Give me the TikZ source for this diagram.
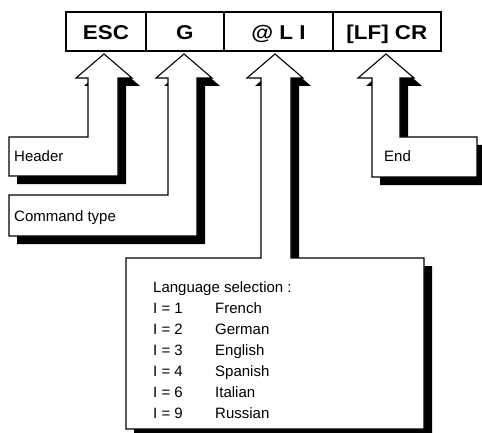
\documentclass[tikz,border=0pt]{standalone}
\usepackage{fontspec}
\setmainfont{Liberation Sans}
\usetikzlibrary{calc}
\tikzset{
  cell/.style={draw, line width=1.8pt, minimum height=39pt, inner sep=0pt,
    text height=17pt, text depth=0pt, font=\fontsize{20}{24}\selectfont\bfseries},
  label/.style={anchor=base west, inner sep=0pt, font=\fontsize{15}{18}\selectfont},
  callout/.style={fill=white, draw=black, line width=1.1pt, line join=miter},
  shade/.style={fill=black, draw=none}
}
\newcommand{\wide}[1]{\scalebox{1.12}[1]{#1}}
\begin{document}
\begin{tikzpicture}[x=1pt,y=-1pt]
\useasboundingbox (0,0) rectangle (482,433);
\clip (0,0) rectangle (482,433);

% command string cells
\node[cell, minimum width=80pt,  anchor=north west] (esc) at (65,11)  {\wide{ESC}};
\node[cell, minimum width=78pt,  anchor=north west] (g)   at (145,11) {\wide{G}};
\node[cell, minimum width=109pt, anchor=north west] (li)  at (223,11) {\wide{@ L I}};
\node[cell, minimum width=108pt, anchor=north west] (cr)  at (332,11) {\wide{[LF] CR}};

% callout outlines (each drawn with a drop shadow)
\def\headerpath{(88,78) -- (88,137) -- (9,137) -- (9,176) -- (118,176) -- (118,78) -- (132,78) -- (104,54) -- (76,78) -- cycle}
\def\cmdpath{(168,78) -- (168,195) -- (9,195) -- (9,236) -- (197,236) -- (197,78) -- (212,78) -- (184,54) -- (156,78) -- cycle}
\def\langpath{(261,78) -- (261,258) -- (126,258) -- (126,429) -- (424,429) -- (424,258) -- (291,258) -- (291,78) -- (303,78) -- (275,54) -- (247,78) -- cycle}
\def\endpath{(372,78) -- (372,177) -- (477,177) -- (477,137) -- (400,137) -- (400,78) -- (414,78) -- (386,54) -- (358,78) -- cycle}

\begin{scope}[shift={(8,8)}]
  \fill[shade] \headerpath;
\end{scope}
\draw[callout] \headerpath;

\begin{scope}[shift={(8,8)}]
  \fill[shade] \cmdpath;
\end{scope}
\draw[callout] \cmdpath;

\begin{scope}[shift={(8,8)}]
  \fill[shade] \langpath;
\end{scope}
\draw[callout] \langpath;

\begin{scope}[shift={(8,8)}]
  \fill[shade] \endpath;
\end{scope}
\draw[callout] \endpath;

% labels
\node[label] (hdr) at (14,162) {Header};
\node[label] (cmd) at (14,221) {Command type};
\node[label] (end) at (384,161) {End};

\node[label] (lsel) at (153,292) {Language selection :};
\node[label] (l1) at (153,313) {I = 1};  \node[label] (n1) at (215,313) {French};
\node[label] (l2) at (153,334) {I = 2};  \node[label] (n2) at (215,334) {German};
\node[label] (l3) at (153,355) {I = 3};  \node[label] (n3) at (215,355) {English};
\node[label] (l4) at (153,376) {I = 4};  \node[label] (n4) at (215,376) {Spanish};
\node[label] (l6) at (153,397) {I = 6};  \node[label] (n6) at (215,397) {Italian};
\node[label] (l9) at (153,418) {I = 9};  \node[label] (n9) at (215,418) {Russian};
\end{tikzpicture}
\end{document}
